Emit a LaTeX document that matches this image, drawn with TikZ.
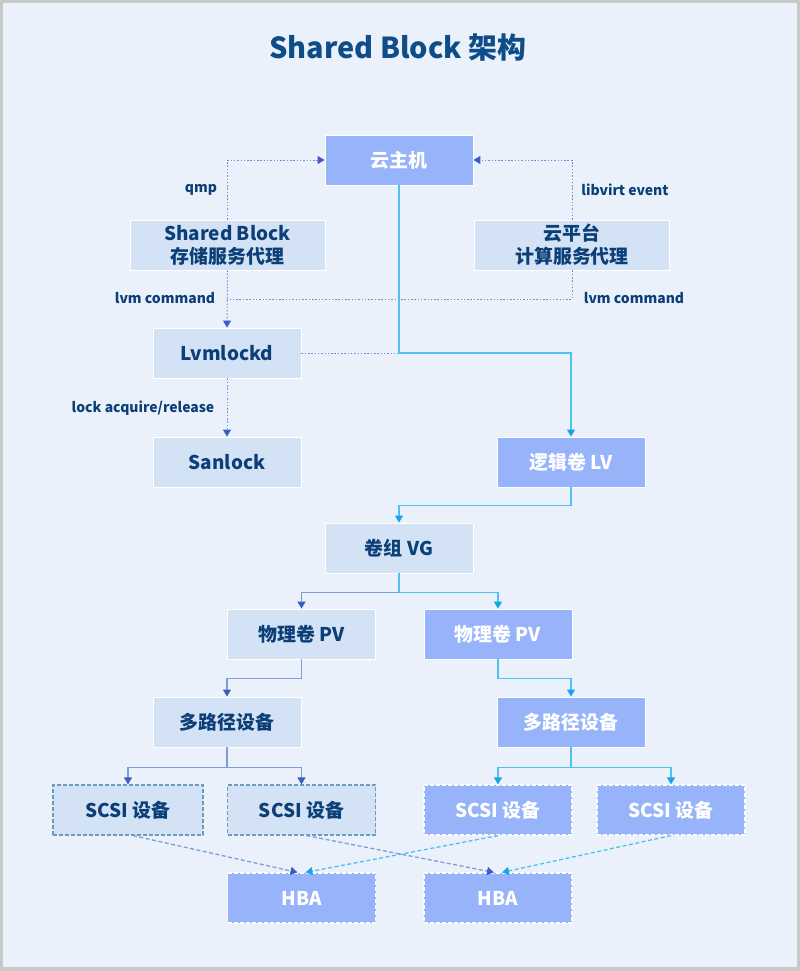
\documentclass[tikz,border=0pt]{standalone}
\usepackage{fontspec}
\setmainfont{Noto Sans CJK SC}
\usetikzlibrary{arrows.meta,calc}

\definecolor{bgblue}{HTML}{EAF1FA}
\definecolor{framegray}{HTML}{C8C8C8}
\definecolor{lightbox}{HTML}{D3E3F5}
\definecolor{vmbox}{HTML}{97B4FA}
\definecolor{navy}{HTML}{0C3E78}
\definecolor{titleblue}{HTML}{0F4C8A}
\definecolor{linkblue}{HTML}{7E9ED8}
\definecolor{tipblue}{HTML}{3A5FC0}
\definecolor{linkcyan}{HTML}{4DC2F0}
\definecolor{tipcyan}{HTML}{16A6E8}
\definecolor{dashframe}{HTML}{6E9BBD}
\definecolor{dotblue}{HTML}{7090D2}

\tikzset{
  box/.style={minimum width=148bp, minimum height=50bp, inner sep=0pt, align=center,
    font=\bfseries\fontsize{19}{23}\selectfont, draw=white, line width=0.8bp},
  lightnode/.style={box, fill=lightbox, text=navy},
  darknode/.style={box, fill=vmbox, text=white},
  lightdash/.style={lightnode, draw=dashframe, line width=1.2bp, dash pattern=on 4bp off 2bp},
  darkdash/.style={darknode, line width=1.2bp, dash pattern=on 4bp off 2bp},
  lbl/.style={font=\bfseries\fontsize{14}{16}\selectfont, text=navy},
  bluetip/.style={-{Triangle[width=8bp,length=7bp,color=tipblue]}},
  cyantip/.style={-{Triangle[width=8bp,length=7bp,color=tipcyan]}},
  bluelink/.style={draw=linkblue, line width=1.3bp},
  cyanlink/.style={draw=linkcyan, line width=1.3bp},
  dotlink/.style={draw=dotblue, line width=1bp, dash pattern=on 1.5bp off 1.8bp},
  dashlink/.style={line width=1.3bp, dash pattern=on 4bp off 2.5bp}
}

\begin{document}
\begin{tikzpicture}[x=1bp, y=-1bp]
    % Frame
    \fill[framegray] (0,0) rectangle (800,971);
    \fill[bgblue] (3,3) rectangle (797,967);
    \useasboundingbox (0,0) rectangle (800,971);

    % Title
    \node[font=\bfseries\fontsize{29}{33}\selectfont, text=titleblue] (title) at (398,48) {Shared Block 架构};

    % Upper nodes
    \node[darknode] (vm) at (399,160) {云主机};
    \node[lightnode, minimum width=195bp] (sbagent) at (227.5,245) {Shared Block\\存储服务代理};
    \node[lightnode, minimum width=195bp] (cpagent) at (572,245) {云平台\\计算服务代理};
    \node[lightnode] (lvmlockd) at (227,353) {Lvmlockd};
    \node[lightnode] (sanlock) at (227,462) {Sanlock};
    \node[darknode] (lv) at (571,462) {逻辑卷 LV};

    % Volume nodes
    \node[lightnode] (vg) at (399,548) {卷组 VG};
    \node[lightnode] (pvl) at (301.5,634) {物理卷 PV};
    \node[darknode] (pvr) at (498,634) {物理卷 PV};
    \node[lightnode] (mpl) at (227,722) {多路径设备};
    \node[darknode] (mpr) at (571,722) {多路径设备};

    % Devices
    \node[lightdash, minimum width=150bp] (scsia) at (128,810) {SCSI 设备};
    \node[lightdash] (scsib) at (301.5,810) {SCSI 设备};
    \node[darkdash] (scsic) at (498,810) {SCSI 设备};
    \node[darkdash] (scsid) at (671,810) {SCSI 设备};
    \node[darkdash] (hbaa) at (301.5,898) {HBA};
    \node[darkdash] (hbab) at (498,898) {HBA};

    % Control links
    \draw[dotlink, bluetip] (sbagent.north) |- (vm.west);
    \draw[dotlink, bluetip] (cpagent.north) |- (vm.east);
    \draw[dotlink, bluetip] (sbagent.south) -- (lvmlockd.north);
    \draw[dotlink] (cpagent.south) |- ($(sbagent.south)!0.5!(lvmlockd.north)$);
    \draw[dotlink] (lvmlockd.east) -- (lvmlockd.east -| vm.south);
    \draw[dotlink, bluetip] (lvmlockd.south) -- (sanlock.north);
    \node[lbl] (lblqmp) at (201,190) {qmp};
    \node[lbl] (lbllibvirt) at (625,190) {libvirt event};
    \node[lbl] (lbllvma) at (165,298) {lvm command};
    \node[lbl] (lbllvmb) at (634,298) {lvm command};
    \node[lbl] (lbllock) at (143,408) {lock acquire/release};

    % Data path
    \draw[cyanlink, cyantip] (vm.south) -- (vm.south |- lvmlockd.east) -| (lv.north);
    \draw[cyanlink, cyantip] (lv.south) -- ++(0,18) -| (vg.north);
    \draw[bluelink, bluetip] (vg.south) -- ++(0,19) -| (pvl.north);
    \draw[cyanlink, cyantip] (vg.south) -- ++(0,19) -| (pvr.north);
    \draw[bluelink, bluetip] (pvl.south) -- ++(0,19) -| (mpl.north);
    \draw[cyanlink, cyantip] (pvr.south) -- ++(0,19) -| (mpr.north);
    \draw[bluelink, bluetip] (mpl.south) -- ++(0,20) -| (scsia.north);
    \draw[bluelink, bluetip] (mpl.south) -- ++(0,20) -| (scsib.north);
    \draw[cyanlink, cyantip] (mpr.south) -- ++(0,20) -| (scsic.north);
    \draw[cyanlink, cyantip] (mpr.south) -- ++(0,20) -| (scsid.north);

    % Devices to HBA
    \draw[dashlink, draw=linkblue, bluetip] ([xshift=5bp]scsia.south) -- ([xshift=-4bp]hbaa.north);
    \draw[dashlink, draw=linkblue, bluetip] ([xshift=5bp]scsib.south) -- ([xshift=-4bp]hbab.north);
    \draw[dashlink, draw=linkcyan, cyantip] (scsic.south) -- ([xshift=4bp]hbaa.north);
    \draw[dashlink, draw=linkcyan, cyantip] (scsid.south) -- ([xshift=4bp]hbab.north);
\end{tikzpicture}
\end{document}
